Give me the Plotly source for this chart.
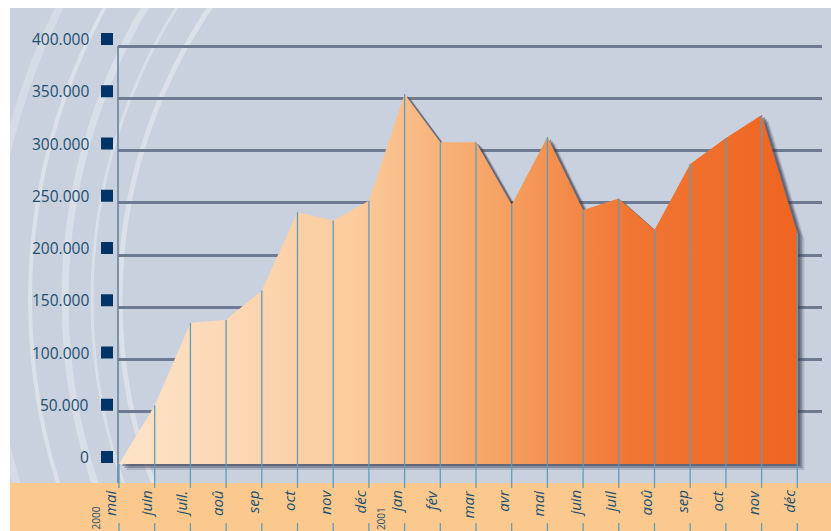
import plotly.graph_objects as go

# ---- data ---------------------------------------------------------------
months = ["mai", "juin", "juil.", "aoû", "sep", "oct", "nov", "déc",
          "jan", "fév", "mar", "avr", "mai", "juin", "juil", "aoû",
          "sep", "oct", "nov", "déc"]
values = [0, 56000, 135000, 138000, 166000, 241000, 233000, 252000,
          354000, 308000, 308000, 248000, 313000, 243000, 254000, 224000,
          287000, 312000, 334000, 221000]
year_labels = ["2000", "2001"]
year_starts = [0, 8]
y_ticks = [0, 50000, 100000, 150000, 200000, 250000, 300000, 350000, 400000]
y_ticktext = ["0", "50.000", "100.000", "150.000", "200.000",
              "250.000", "300.000", "350.000", "400.000"]

# ---- page geometry (pixels) ---------------------------------------------
W, H = 831, 531
L, R, T, B = 118, 822, 28, 470        # plot area
X0_PX, STEP = 119, 35.7               # first month position, month spacing
ZERO_PX, TOP_PX = 464, 46             # pixel rows of 0 and 400.000
scale = (ZERO_PX - TOP_PX) / 400000   # px per unit

x = list(range(len(values)))
x_range = [(L - X0_PX) / STEP, (R - X0_PX) / STEP]
y_range = [-(B - ZERO_PX) / scale, 400000 + (TOP_PX - T) / scale]


def pxx(px):
    return (px - L) / (R - L)


def pxy(py):
    return (B - py) / (B - T)


LABEL_BLUE = "#1d4f70"
LINE_BLUE = "#5e9dbb"

fig = go.Figure()

# soft drop shadow behind the area
for dxp, dyp, alpha in [(7, 6, 0.18), (5, 4, 0.35), (3, 2, 0.45)]:
    dx, dy = dxp / STEP, dyp / scale
    fig.add_trace(go.Scatter(
        x=[xi + dx for xi in x] + [x[-1] + dx, x[0] + dx],
        y=[v - dy for v in values] + [-dy, -dy],
        fill="toself", mode="lines", line=dict(width=0),
        fillcolor=f"rgba(55,60,82,{alpha})", hoverinfo="skip",
        showlegend=False))

# main area with a peach-to-orange gradient
fig.add_trace(go.Scatter(
    x=x, y=values, fill="tozeroy", mode="lines",
    line=dict(width=0, color="#f39a5a"),
    fillgradient=dict(type="horizontal", colorscale=[
        [0.0, "#fde3c9"], [0.35, "#fbcb9c"], [0.55, "#f6a466"],
        [0.75, "#f17634"], [1.0, "#ef6521"]]),
    hoverinfo="skip", showlegend=False))

# month drop lines inside the plot
vx, vy = [], []
for xi, v in zip(x, values):
    vx += [xi, xi, None]
    vy += [v, y_range[0], None]
fig.add_trace(go.Scatter(x=vx, y=vy, mode="lines",
                         line=dict(color=LINE_BLUE, width=1.3),
                         hoverinfo="skip", showlegend=False))

shapes = []
# grey panel
shapes.append(dict(type="rect", xref="paper", yref="paper", layer="below",
                   x0=pxx(10), x1=pxx(W + 2), y0=pxy(483), y1=pxy(8),
                   fillcolor="#c9d1de", line=dict(width=0)))
# light swirl arcs in the panel
for r, w, op in [(520, 5, 0.35), (548, 3, 0.3), (575, 7, 0.3),
                 (610, 4, 0.35), (650, 8, 0.25), (700, 5, 0.3)]:
    cx, cy = 640, 300
    shapes.append(dict(type="circle", xref="paper", yref="paper",
                       layer="below", x0=pxx(cx - r), x1=pxx(cx + r),
                       y0=pxy(cy + r), y1=pxy(cy - r),
                       line=dict(color=f"rgba(255,255,255,{op})", width=w)))
# white page margins over the arcs
shapes.append(dict(type="rect", xref="paper", yref="paper", layer="below",
                   x0=pxx(-5), x1=pxx(W + 5), y0=pxy(8), y1=pxy(-400),
                   fillcolor="white", line=dict(width=0)))
shapes.append(dict(type="rect", xref="paper", yref="paper", layer="below",
                   x0=pxx(-400), x1=pxx(10), y0=pxy(H + 400), y1=pxy(-5),
                   fillcolor="white", line=dict(width=0)))
# orange label band
shapes.append(dict(type="rect", xref="paper", yref="paper", layer="below",
                   x0=pxx(10), x1=pxx(W + 2), y0=pxy(H + 400), y1=pxy(483),
                   fillcolor="#fbc98d", line=dict(width=0)))
# left frame line from the top gridline down to the label band
shapes.append(dict(type="line", xref="paper", yref="paper", layer="below",
                   x0=pxx(118), x1=pxx(118), y0=pxy(483), y1=pxy(TOP_PX),
                   line=dict(color="#7f93a8", width=2)))
# month lines continuing through the band
for xi in x:
    for a, b in [(B, 488), (523, H + 2)]:
        shapes.append(dict(type="line", xref="x", yref="paper", layer="above",
                           x0=xi, x1=xi, y0=pxy(a), y1=pxy(b),
                           line=dict(color=LINE_BLUE, width=1.3)))
# square bullets beside the value labels
for t in y_ticks:
    shapes.append(dict(type="rect", xref="paper", xsizemode="pixel",
                       xanchor=0, x0=-(L - 101), x1=-(L - 113),
                       yref="y", ysizemode="pixel", yanchor=t,
                       y0=1, y1=13, layer="above",
                       fillcolor="#003366", line=dict(width=0)))

annotations = []
for t, txt in zip(y_ticks, y_ticktext):
    annotations.append(dict(
        text=txt, xref="paper", x=0, xshift=-(L - 91), xanchor="right",
        yref="y", y=t, yshift=7, yanchor="middle", showarrow=False,
        font=dict(family="Open Sans", size=15.5, color=LABEL_BLUE)))
for xi, m in zip(x, months):
    annotations.append(dict(
        text=m, xref="x", x=xi, xanchor="right", xshift=3,
        yref="paper", y=pxy(488), yanchor="top", textangle=-90,
        showarrow=False,
        font=dict(family="Open Sans", size=15, color=LABEL_BLUE,
                  style="italic")))
for xi, yl in zip(year_starts, year_labels):
    annotations.append(dict(
        text=yl, xref="x", x=xi, xanchor="right", xshift=-15,
        yref="paper", y=pxy(505), yanchor="top", textangle=-90,
        showarrow=False,
        font=dict(family="Open Sans", size=10, color=LABEL_BLUE)))

fig.update_layout(
    width=W, height=H,
    margin=dict(l=L, r=W - R, t=T, b=H - B, pad=0),
    paper_bgcolor="white", plot_bgcolor="rgba(0,0,0,0)",
    xaxis=dict(range=x_range, showgrid=False, zeroline=False,
               showticklabels=False, showline=False, fixedrange=True),
    yaxis=dict(range=y_range, tickvals=y_ticks[1:], showticklabels=False,
               showgrid=True, gridcolor="#6d7a91", gridwidth=2.5,
               zeroline=False, showline=False, ticks="", fixedrange=True),
    shapes=shapes, annotations=annotations, showlegend=False)

fig.write_html("out.html")
